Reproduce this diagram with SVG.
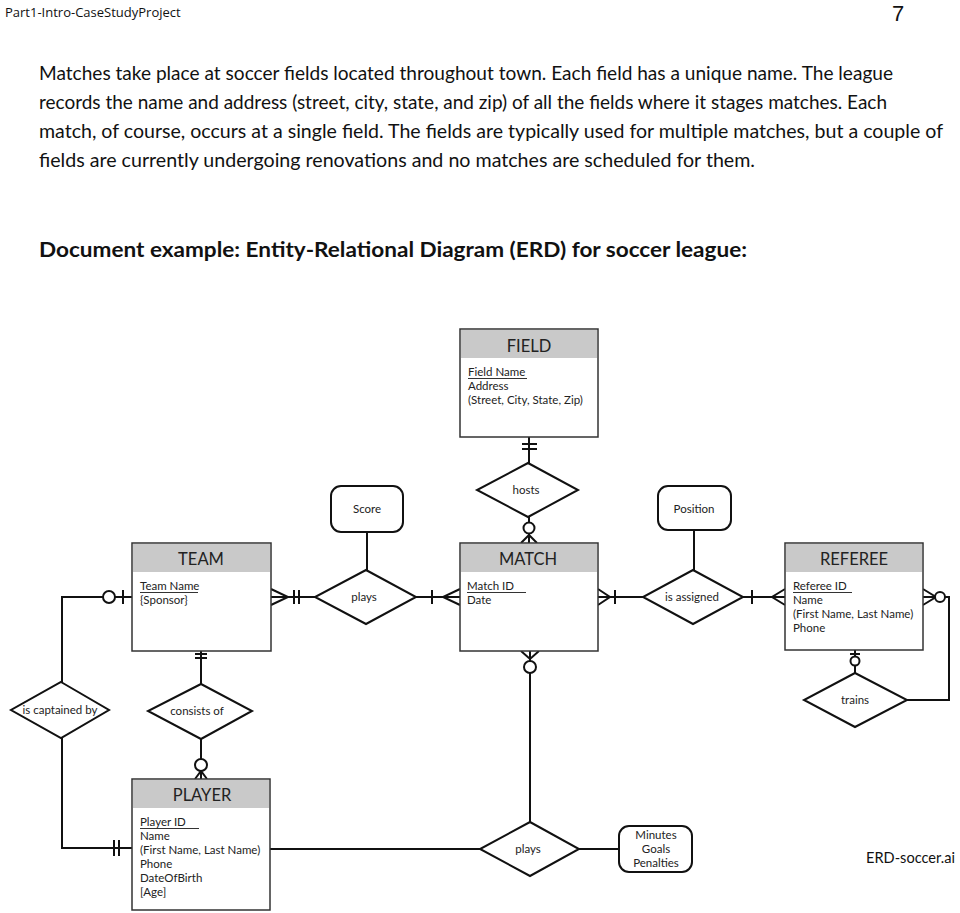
<svg xmlns="http://www.w3.org/2000/svg" width="960" height="913" viewBox="0 0 960 913">
<style>
.bg{fill:#fff}
.ent{fill:#fff;stroke:#333;stroke-width:1.5}
.hdr{fill:#c9c9c9}
.rel{fill:#fff;stroke:#111;stroke-width:2}
.att{fill:#fff;stroke:#111;stroke-width:2}
.ln{fill:none;stroke:#111;stroke-width:2}
.ul{stroke:#333;stroke-width:1}
.ht{font-family:Lato,"Open Sans",sans-serif;font-size:16.5px;fill:#222;text-anchor:middle}
.at{font-family:Lato,"Open Sans",sans-serif;font-size:11.5px;fill:#222}
.ct{font-family:Lato,"Open Sans",sans-serif;font-size:11.5px;fill:#222;text-anchor:middle}
.para{font-family:Lato,"Open Sans",sans-serif;font-size:19px;fill:#111}
.ttl{font-family:Lato,"Open Sans",sans-serif;font-size:21px;font-weight:bold;fill:#111}
.circ{fill:#fff;stroke:#111;stroke-width:2}
</style>
<rect class="bg" x="0" y="0" width="960" height="913"/>
<g id="page-text">
<text x="5" y="17" style="font-family:'Open Sans',Lato,sans-serif;font-size:13px;fill:#111">Part1-Intro-CaseStudyProject</text>
<text x="892" y="21" style="font-family:'Liberation Sans',sans-serif;font-size:22px;fill:#111">7</text>
<text class="para" x="39" y="80" textLength="854" lengthAdjust="spacingAndGlyphs">Matches take place at soccer fields located throughout town.  Each field has a unique name.  The league</text>
<text class="para" x="39" y="109" textLength="848" lengthAdjust="spacingAndGlyphs">records the name and address (street, city, state, and zip) of all the fields where it stages matches.  Each</text>
<text class="para" x="39" y="138" textLength="904" lengthAdjust="spacingAndGlyphs">match, of course, occurs at a single field.  The fields are typically used for multiple matches, but a couple of</text>
<text class="para" x="39" y="167" textLength="716" lengthAdjust="spacingAndGlyphs">fields are currently undergoing renovations and no matches are scheduled for them.</text>
<text class="ttl" x="39" y="257" textLength="708" lengthAdjust="spacingAndGlyphs">Document example: Entity-Relational Diagram (ERD) for soccer league:</text>
<text x="866" y="863" textLength="89" lengthAdjust="spacingAndGlyphs" style="font-family:Lato,'Open Sans',sans-serif;font-size:15px;fill:#111">ERD-soccer.ai</text>
</g>
<g id="connectors">
<path class="ln" d="M529,437V463M522,444H537M522,449H537"/>
<path class="ln" d="M529,517V543M521,543L529,535L537,543"/>
<circle class="circ" cx="529" cy="528" r="5.5"/>
<path class="ln" d="M367,532V570"/>
<path class="ln" d="M271,597H315M271,589L288,597L271,605M294,590V604M299,590V604"/>
<path class="ln" d="M416,597H460M432,590V604M460,589L443,597L460,605"/>
<path class="ln" d="M598,597H643M598,589L610,597L598,605M615,590V604"/>
<path class="ln" d="M694,530V570"/>
<path class="ln" d="M743,597H785M752,590V604M785,589L772,597L785,605"/>
<path class="ln" d="M923,589L936,597L923,605M923,597H945M945,597H949V700H907"/>
<circle class="circ" cx="940" cy="597" r="5"/>
<path class="ln" d="M855,650V673M850,654H860"/>
<circle class="circ" cx="855" cy="661" r="4.5"/>
<path class="ln" d="M132,597H62V682M123,590V604"/>
<circle class="circ" cx="109" cy="597" r="6"/>
<path class="ln" d="M62,738V848H132M114,840V856M119,840V856"/>
<path class="ln" d="M201,651V684M195,654H207M195,658H207"/>
<path class="ln" d="M201,739V779M195,779L201,771L207,779"/>
<circle class="circ" cx="201" cy="765" r="6"/>
<path class="ln" d="M530,651V822M521,651L530,659L539,651"/>
<circle class="circ" cx="530" cy="667" r="6"/>
<path class="ln" d="M270,849H480"/>
<path class="ln" d="M579,849H619"/>
</g>
<g id="field">
<rect class="ent" x="460" y="329" width="138" height="108"/>
<rect class="hdr" x="461" y="330" width="136" height="28"/>
<text class="ht" x="529" y="352">FIELD</text>
<text class="at" x="468" y="376">Field Name</text>
<line class="ul" x1="468" y1="378.5" x2="527" y2="378.5"/>
<text class="at" x="468" y="390">Address</text>
<text class="at" x="468" y="404">(Street, City, State, Zip)</text>
</g>
<g id="team">
<rect class="ent" x="132" y="543" width="139" height="108"/>
<rect class="hdr" x="133" y="544" width="137" height="28"/>
<text class="ht" x="201" y="565">TEAM</text>
<text class="at" x="140" y="590">Team Name</text>
<line class="ul" x1="140" y1="592.5" x2="198" y2="592.5"/>
<text class="at" x="140" y="604">{Sponsor}</text>
</g>
<g id="match">
<rect class="ent" x="460" y="543" width="138" height="108"/>
<rect class="hdr" x="461" y="544" width="136" height="28"/>
<text class="ht" x="528" y="565">MATCH</text>
<text class="at" x="467" y="590">Match ID</text>
<line class="ul" x1="467" y1="592.5" x2="526" y2="592.5"/>
<text class="at" x="467" y="604">Date</text>
</g>
<g id="referee">
<rect class="ent" x="785" y="543" width="138" height="107"/>
<rect class="hdr" x="786" y="544" width="136" height="28"/>
<text class="ht" x="854" y="565">REFEREE</text>
<text class="at" x="793" y="590">Referee ID</text>
<line class="ul" x1="793" y1="592.5" x2="852" y2="592.5"/>
<text class="at" x="793" y="604">Name</text>
<text class="at" x="793" y="618">(First Name, Last Name)</text>
<text class="at" x="793" y="632">Phone</text>
</g>
<g id="player">
<rect class="ent" x="132" y="779" width="138" height="131"/>
<rect class="hdr" x="133" y="780" width="136" height="28"/>
<text class="ht" x="202" y="801">PLAYER</text>
<text class="at" x="140" y="826">Player ID</text>
<line class="ul" x1="140" y1="828.5" x2="199" y2="828.5"/>
<text class="at" x="140" y="840">Name</text>
<text class="at" x="140" y="854">(First Name, Last Name)</text>
<text class="at" x="140" y="868">Phone</text>
<text class="at" x="140" y="882">DateOfBirth</text>
<text class="at" x="140" y="896">[Age]</text>
</g>
<g id="hosts">
<polygon class="rel" points="528,463 578,490 528,517 477,490"/>
<text class="ct" x="526" y="494">hosts</text>
</g>
<g id="plays-team-match">
<polygon class="rel" points="366,570 416,597 366,624 315,597"/>
<text class="ct" x="364" y="601">plays</text>
</g>
<g id="is-assigned">
<polygon class="rel" points="693,570 743,597 693,624 643,597"/>
<text class="ct" x="692" y="601">is assigned</text>
</g>
<g id="trains">
<polygon class="rel" points="855,673 907,700 855,727 804,700"/>
<text class="ct" x="855" y="704">trains</text>
</g>
<g id="is-captained-by">
<polygon class="rel" points="61,682 109,710 61,738 11,710"/>
<text class="ct" x="60" y="714">is captained by</text>
</g>
<g id="consists-of">
<polygon class="rel" points="201,684 252,711 201,739 148,711"/>
<text class="ct" x="197" y="715">consists of</text>
</g>
<g id="plays-player-match">
<polygon class="rel" points="530,822 579,849 530,876 480,849"/>
<text class="ct" x="528" y="853">plays</text>
</g>
<g id="score">
<rect class="att" x="331" y="486" width="72" height="46" rx="10"/>
<text class="ct" x="367" y="513">Score</text>
</g>
<g id="position">
<rect class="att" x="658" y="486" width="73" height="44" rx="10"/>
<text class="ct" x="694" y="513">Position</text>
</g>
<g id="minutes-goals-penalties">
<rect class="att" x="619" y="826" width="73" height="46" rx="10"/>
<text class="ct" x="656" y="839">Minutes</text>
<text class="ct" x="656" y="853">Goals</text>
<text class="ct" x="656" y="867">Penalties</text>
</g>
</svg>
